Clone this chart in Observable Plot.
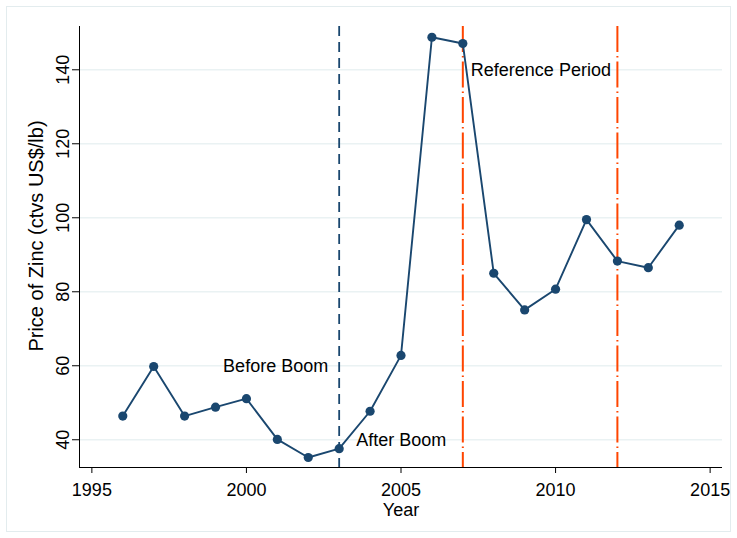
<!DOCTYPE html>
<html>
<head>
<meta charset="utf-8">
<script src="https://cdn.jsdelivr.net/npm/d3@7"></script>
<script src="https://cdn.jsdelivr.net/npm/@observablehq/plot@0.6"></script>
<style>
  html, body { margin: 0; padding: 0; background: white; }
  #wrap { position: relative; width: 737px; height: 538px; }
  #frame { position: absolute; left: 6px; top: 6px; width: 723px; height: 524px;
           border: 1px solid #e3ecee; pointer-events: none; }
</style>
</head>
<body>
<div id="wrap"><div id="chart"></div><div id="frame"></div></div>
<script>
const years  = [1996, 1997, 1998, 1999, 2000, 2001, 2002, 2003, 2004, 2005, 2006, 2007, 2008, 2009, 2010, 2011, 2012, 2013, 2014];
const prices = [46.4, 59.8, 46.4, 48.8, 51.1, 40.1, 35.2, 37.6, 47.7, 62.8, 148.8, 147.1, 85.0, 75.1, 80.7, 99.5, 88.3, 86.5, 98.0];
const yTicks = [40, 60, 80, 100, 120, 140];
const xTicks = [1995, 2000, 2005, 2010, 2015];
const boomYears = [2003];
const referenceYears = [2007, 2012];
const xDomain = [1994.6, 2015.4];
const yDomain = [32.5, 151.7];

const series = years.map((year, i) => ({year, price: prices[i]}));
const navy = "#1a476f";
const orange = "#ff4500";

const chart = Plot.plot({
  width: 737,
  height: 538,
  marginLeft: 79,
  marginRight: 15,
  marginTop: 26,
  marginBottom: 71,
  style: {fontFamily: "'Liberation Sans', Arial, sans-serif", fontSize: "18px", background: "transparent", color: "black"},
  x: {domain: xDomain},
  y: {domain: yDomain},
  marks: [
    Plot.gridY(yTicks, {stroke: "#eaf2f3", strokeOpacity: 1, strokeWidth: 1.5}),
    Plot.ruleX([xDomain[0]], {stroke: "black", strokeWidth: 1}),
    Plot.ruleY([yDomain[0]], {stroke: "black", strokeWidth: 1}),
    Plot.axisY(yTicks, {tickSize: 7, tickPadding: 4, tickRotate: -90, fontSize: 18, label: null}),
    Plot.axisY({label: "Price of Zinc (ctvs US$/lb)", labelAnchor: "center", labelArrow: "none", labelOffset: 51,
      ticks: [], tickSize: 0, fontSize: 20}),
    Plot.axisX(xTicks, {tickFormat: "d", tickSize: 6, tickPadding: 10, fontSize: 18,
      label: "Year", labelAnchor: "center", labelArrow: "none", labelOffset: 48}),
    Plot.ruleX(boomYears, {stroke: navy, strokeWidth: 1.8, strokeDasharray: "10,6"}),
    Plot.ruleX(referenceYears, {stroke: orange, strokeWidth: 2, strokeDasharray: "26,4,1.5,4"}),
    Plot.line(series, {x: "year", y: "price", stroke: navy, strokeWidth: 1.9}),
    Plot.dot(series, {x: "year", y: "price", r: 4.6, fill: navy, stroke: "none"}),
    Plot.text(["Before Boom"], {x: boomYears[0], y: 60, text: d => d, textAnchor: "end", dx: -11, fontSize: 18, fill: "black"}),
    Plot.text(["After Boom"], {x: boomYears[0], y: 40, text: d => d, textAnchor: "start", dx: 17, fontSize: 18, fill: "black"}),
    Plot.text(["Reference Period"], {x: referenceYears[0], y: 140, text: d => d, textAnchor: "start", dx: 8, fontSize: 18, fill: "black"})
  ]
});
// nudge the y-axis title upward to match the reference placement (keep Plot's own transform)
d3.select(chart).selectAll('g[aria-label="y-axis label"]').each(function () {
  const g = d3.select(this);
  const t = g.attr("transform") || "";
  g.attr("transform", "translate(0,-11) " + t);
});
document.getElementById("chart").append(chart);
</script>
</body>
</html>
